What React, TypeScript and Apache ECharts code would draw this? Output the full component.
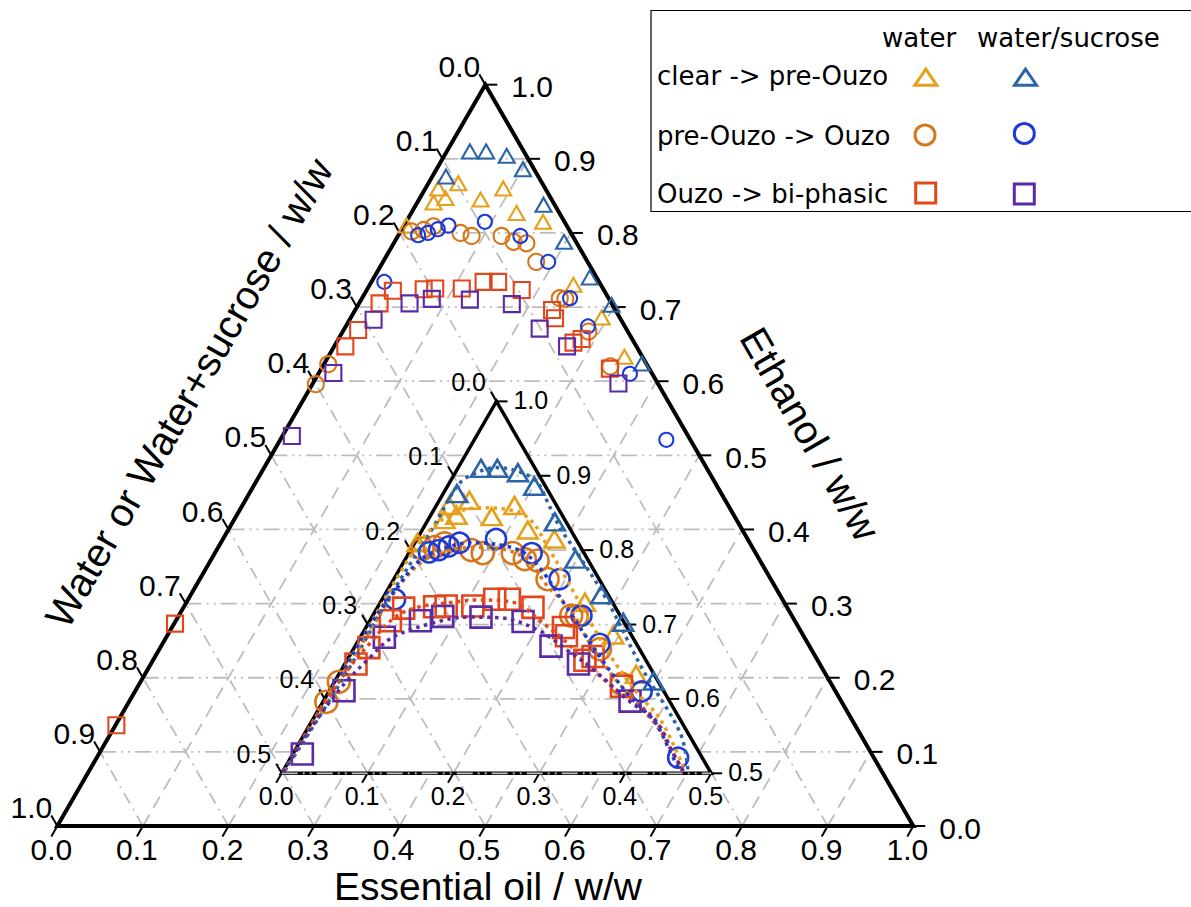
import React, { useEffect, useRef } from "react";
import * as echarts from "echarts";

const SQ3 = Math.sqrt(3);

// All points are [essential oil, ethanol] mass fractions; water = 1 - oil - ethanol
const clearWater = [
  [0.035, 0.867], [0.015, 0.860], [0.030, 0.847], [0.019, 0.841], [0.072, 0.845], [0.091, 0.860],
  [0.123, 0.827], [0.160, 0.815], [0.003, 0.810], [0.238, 0.730], [0.293, 0.686], [0.346, 0.633],
];
const clearSucrose = [
  [0.027, 0.910], [0.046, 0.910], [0.073, 0.904], [0.101, 0.886], [0.016, 0.876], [0.149, 0.838],
  [0.198, 0.788], [0.252, 0.740], [0.296, 0.703], [0.371, 0.624],
];
const ouzoWater = [
  [0.013, 0.802], [0.026, 0.804], [0.035, 0.809], [0.071, 0.800], [0.086, 0.796], [0.121, 0.796],
  [0.139, 0.788], [0.155, 0.786], [0.179, 0.761], [0.231, 0.712], [0.238, 0.711], [0.287, 0.667],
  [0.336, 0.620], [0.005, 0.623], [0.004, 0.596],
];
const ouzoSucrose = [
  [0.023, 0.797], [0.033, 0.800], [0.042, 0.805], [0.052, 0.810], [0.092, 0.815], [0.143, 0.796],
  [0.193, 0.761], [0.243, 0.712], [0.283, 0.674], [0.364, 0.610], [0.451, 0.521], [0.015, 0.734],
];
const biphWater = [
  [0.031, 0.722], [0.066, 0.724], [0.079, 0.725], [0.110, 0.725], [0.131, 0.734], [0.148, 0.734],
  [0.181, 0.723], [0.024, 0.705], [0.017, 0.669], [0.013, 0.647], [0.230, 0.696], [0.239, 0.685],
  [0.277, 0.652], [0.284, 0.657], [0.337, 0.617], [0.001, 0.273], [0.001, 0.136],
];
const biphSucrose = [
  [0.059, 0.705], [0.082, 0.711], [0.127, 0.710], [0.179, 0.704], [0.028, 0.683], [0.017, 0.611],
  [0.228, 0.671], [0.272, 0.647], [0.357, 0.597], [0.011, 0.526],
];

// Fitted phase boundaries shown in the inset, [oil, ethanol]
const fitClearSucrose = [
  [0.002, 0.504], [0.008, 0.639], [0.007, 0.733], [0.011, 0.831], [0.011, 0.885], [0.019, 0.900],
  [0.045, 0.911], [0.075, 0.905], [0.101, 0.892], [0.125, 0.867], [0.158, 0.831], [0.196, 0.796],
  [0.262, 0.733], [0.351, 0.639], [0.437, 0.554], [0.471, 0.504],
];
const fitClearWater = [
  [0.001, 0.503], [0.002, 0.592], [0.003, 0.683], [0.003, 0.769], [0.007, 0.820], [0.022, 0.847],
  [0.053, 0.857], [0.089, 0.854], [0.119, 0.841], [0.159, 0.803], [0.199, 0.763], [0.264, 0.697],
  [0.310, 0.652], [0.360, 0.608], [0.405, 0.572], [0.463, 0.509],
];
const fitOuzoWater = [
  [0.001, 0.502], [0.004, 0.605], [0.007, 0.693], [0.011, 0.753], [0.023, 0.787], [0.046, 0.800],
  [0.079, 0.804], [0.116, 0.799], [0.147, 0.784], [0.182, 0.753], [0.226, 0.720], [0.271, 0.675],
  [0.321, 0.630], [0.360, 0.599], [0.411, 0.558], [0.465, 0.503],
];
const fitOuzoSucrose = [
  [0.001, 0.502], [0.003, 0.609], [0.003, 0.695], [0.009, 0.746], [0.018, 0.787], [0.039, 0.803],
  [0.064, 0.810], [0.101, 0.807], [0.135, 0.796], [0.173, 0.767], [0.217, 0.726], [0.260, 0.686],
  [0.304, 0.646], [0.354, 0.603], [0.400, 0.569], [0.436, 0.531], [0.462, 0.503],
];
const fitBiphWater = [
  [0.001, 0.502], [0.001, 0.525], [0.003, 0.599], [0.008, 0.643], [0.014, 0.670], [0.027, 0.710],
  [0.049, 0.724], [0.078, 0.729], [0.111, 0.733], [0.154, 0.730], [0.203, 0.702], [0.245, 0.675],
  [0.293, 0.639], [0.340, 0.608], [0.394, 0.576], [0.434, 0.535], [0.466, 0.503],
];
const fitBiphSucrose = [
  [0.001, 0.502], [0.001, 0.525], [0.010, 0.608], [0.025, 0.656], [0.038, 0.683], [0.075, 0.702],
  [0.111, 0.710], [0.150, 0.709], [0.201, 0.693], [0.249, 0.666], [0.300, 0.635], [0.353, 0.599],
  [0.403, 0.568], [0.442, 0.527], [0.466, 0.503],
];

const mainTicks = [0, 0.1, 0.2, 0.3, 0.4, 0.5, 0.6, 0.7, 0.8, 0.9, 1.0];
const insetTicks = [0, 0.1, 0.2, 0.3, 0.4, 0.5];

const C_YELLOW = "#e6a01a";
const C_STEEL = "#2b65a7";
const C_ORANGE = "#d8761c";
const C_BLUE = "#1b3ad8";
const C_RED = "#e2461b";
const C_PURPLE = "#5b2ba6";

const FONT = "Liberation Sans";
const LFONT = "DejaVu Sans";

const toXY = (p: number[]) => [p[0] + p[1] / 2, (p[1] * SQ3) / 2];

const DASHES = [
  [16, 5, 2, 5, 2, 5],
  [13, 8],
  [12, 6, 2, 6],
];

function gridSegments(vals: number[], eMin: number) {
  const span = 1 - eMin;
  const out: number[][] = [];
  vals.forEach((c) => {
    if (c <= 0 || c >= span - 1e-9) return;
    const e = eMin + c;
    out.push([...toXY([0, e]), ...toXY([1 - e, e]), 0]);
    out.push([...toXY([c, eMin]), ...toXY([c, 1 - c]), 1]);
    out.push([...toXY([span - c, eMin]), ...toXY([0, 1 - c]), 2]);
  });
  return out;
}

function tickRows(vals: number[], eMin: number) {
  const rows: number[][] = [];
  vals.forEach((v) => {
    rows.push([...toXY([v, eMin]), 0, v]);
    const e = eMin + v;
    rows.push([...toXY([1 - e, e]), 1, e]);
    rows.push([...toXY([0, 1 - v]), 2, v]);
  });
  return rows;
}

function gridRender(params: any, api: any) {
  const a = api.coord([api.value(0), api.value(1)]);
  const b = api.coord([api.value(2), api.value(3)]);
  const fam = api.value(4);
  return {
    type: "line",
    shape: { x1: a[0], y1: a[1], x2: b[0], y2: b[1] },
    style: { stroke: "#bdbdbd", lineWidth: 1.8, lineDash: DASHES[fam], fill: null },
  };
}

function tickRender(len: number, fontSize: number, inset: boolean) {
  return (params: any, api: any) => {
    const p = api.coord([api.value(0), api.value(1)]);
    const kind = api.value(2);
    const v = api.value(3);
    let dx = 0, dy = 0, tx = 0, ty = 0, align = "center";
    if (kind === 0) {
      dx = -len / 2; dy = (len * SQ3) / 2;
      tx = p[0] + dx; ty = p[1] + dy + 13; align = "center";
    } else if (kind === 1) {
      dx = len; dy = 0;
      tx = p[0] + (inset ? 17 : 26); ty = p[1] + (inset ? -1 : 2); align = "left";
    } else {
      dx = -len / 2; dy = (-len * SQ3) / 2;
      tx = p[0] + dx + (inset ? -5 : 1); ty = p[1] + dy + (inset ? -10 : -8); align = "right";
    }
    return {
      type: "group",
      children: [
        { type: "line", shape: { x1: p[0], y1: p[1], x2: p[0] + dx, y2: p[1] + dy }, style: { stroke: "#000", lineWidth: 2 } },
        {
          type: "text", x: tx, y: ty,
          style: { text: v.toFixed(1), fontSize, fontFamily: FONT, fill: "#000", align, verticalAlign: "middle" },
        },
      ],
    };
  };
}

function polyRender(verts: number[][], fill: string | null, stroke: string | null, lw: number) {
  return (params: any, api: any) => {
    const pts = verts.map((v) => api.coord(toXY(v)));
    return {
      type: "polygon",
      shape: { points: pts },
      style: { fill: fill || "none", stroke: stroke || "none", lineWidth: lw, lineJoin: "miter" },
    };
  };
}

function scatter(name: string, data: number[][], symbol: string, size: any, color: string, idx: number, bw: number, z: number, inset: boolean) {
  const d = inset ? data.filter((p) => p[1] >= 0.5) : data;
  return {
    name, type: "scatter", xAxisIndex: idx, yAxisIndex: idx, z, silent: true,
    data: d.map(toXY), symbol, symbolSize: size, clip: false,
    itemStyle: { color: "rgba(0,0,0,0)", borderColor: color, borderWidth: bw, opacity: 1 },
    emphasis: { disabled: true },
  };
}

function fitLine(data: number[][], color: string) {
  return {
    type: "line", xAxisIndex: 1, yAxisIndex: 1, z: 9, silent: true,
    data: data.map(toXY), symbol: "none", smooth: 0.35, clip: false,
    lineStyle: { color, width: 3.5, type: [3.5, 4.5], cap: "butt" },
    emphasis: { disabled: true },
  };
}

function buildOption() {
  const mainV = [[0, 0], [1, 0], [0, 1]];
  const insetV = [[0, 0.5], [0.5, 0.5], [0, 1]];
  const series: any[] = [
    { type: "custom", xAxisIndex: 0, yAxisIndex: 0, z: 1, silent: true, clip: false, data: gridSegments(mainTicks, 0), renderItem: gridRender, encode: { x: [0, 2], y: [1, 3] } },
    { type: "custom", xAxisIndex: 0, yAxisIndex: 0, z: 2, silent: true, clip: false, data: [[0, 0]], renderItem: polyRender(mainV, null, "#000", 4) },
    { type: "custom", xAxisIndex: 0, yAxisIndex: 0, z: 2, silent: true, clip: false, data: tickRows(mainTicks, 0), renderItem: tickRender(12, 30, false) },
    scatter("clearWater", clearWater, "triangle", [16, 14], C_YELLOW, 0, 2.1, 3, false),
    scatter("clearSucrose", clearSucrose, "triangle", [16, 14], C_STEEL, 0, 2.1, 3, false),
    scatter("ouzoWater", ouzoWater, "circle", 16, C_ORANGE, 0, 2.1, 3, false),
    scatter("ouzoSucrose", ouzoSucrose, "circle", 14, C_BLUE, 0, 2.1, 3, false),
    scatter("biphWater", biphWater, "rect", 16, C_RED, 0, 2.1, 3, false),
    scatter("biphSucrose", biphSucrose, "rect", 16, C_PURPLE, 0, 2.1, 3, false),
    { type: "custom", xAxisIndex: 1, yAxisIndex: 1, z: 4, silent: true, clip: false, data: [[0.5, 0.7]], renderItem: polyRender(insetV, "#fff", null, 0) },
    { type: "custom", xAxisIndex: 1, yAxisIndex: 1, z: 5, silent: true, clip: false, data: gridSegments(insetTicks, 0.5), renderItem: gridRender, encode: { x: [0, 2], y: [1, 3] } },
    { type: "custom", xAxisIndex: 1, yAxisIndex: 1, z: 6, silent: true, clip: false, data: [[0.5, 0.7]], renderItem: polyRender(insetV, null, "#000", 3.5) },
    { type: "custom", xAxisIndex: 1, yAxisIndex: 1, z: 6, silent: true, clip: false, data: tickRows(insetTicks, 0.5), renderItem: tickRender(11, 25, true) },
    { type: "custom", xAxisIndex: 1, yAxisIndex: 1, z: 7, silent: true, clip: false, data: [[...toXY([0, 0.5]), ...toXY([0.5, 0.5]), 0]], renderItem: gridRender },
    scatter("clearWaterI", clearWater, "triangle", [20, 17], C_YELLOW, 1, 2.6, 8, true),
    scatter("clearSucroseI", clearSucrose, "triangle", [20, 17], C_STEEL, 1, 2.6, 8, true),
    scatter("ouzoWaterI", ouzoWater, "circle", 22, C_ORANGE, 1, 2.6, 8, true),
    scatter("ouzoSucroseI", ouzoSucrose, "circle", 20, C_BLUE, 1, 2.6, 8, true),
    scatter("biphWaterI", biphWater, "rect", 21, C_RED, 1, 2.6, 8, true),
    scatter("biphSucroseI", biphSucrose, "rect", 21, C_PURPLE, 1, 2.6, 8, true),
    fitLine(fitClearSucrose, C_STEEL),
    fitLine(fitClearWater, C_YELLOW),
    fitLine(fitOuzoWater, C_ORANGE),
    fitLine(fitOuzoSucrose, C_BLUE),
    fitLine(fitBiphWater, C_RED),
    fitLine(fitBiphSucrose, C_PURPLE),
  ];

  const lt = (text: string, x: number, y: number) => ({
    type: "text", x, y, z: 101,
    style: { text, fontSize: 26, fontFamily: LFONT, fill: "#000", align: "left", verticalAlign: "middle" },
  });
  const tri = (cx: number, cy: number, color: string) => ({
    type: "polygon", z: 101,
    shape: { points: [[cx - 11, cy + 8], [cx + 11, cy + 8], [cx, cy - 8]] },
    style: { fill: "none", stroke: color, lineWidth: 3 },
  });
  const circ = (cx: number, cy: number, color: string) => ({
    type: "circle", z: 101, shape: { cx, cy, r: 10 }, style: { fill: "none", stroke: color, lineWidth: 3 },
  });
  const sq = (cx: number, cy: number, color: string) => ({
    type: "rect", z: 101, shape: { x: cx - 10, y: cy - 10, width: 20, height: 20 }, style: { fill: "none", stroke: color, lineWidth: 3 },
  });
  const title = (text: string, x: number, y: number, rot: number, size: number) => ({
    type: "text", x, y, rotation: rot, z: 100,
    style: { text, fontSize: size, fontFamily: FONT, fill: "#000", align: "center", verticalAlign: "middle" },
  });

  return {
    animation: false,
    backgroundColor: "#fff",
    grid: [
      { left: 57.3, top: 55.6, width: 856, height: 770.4, outerBoundsMode: "none", show: false },
      { left: 281.7, top: 372.2, width: 429.5, height: 401.1, outerBoundsMode: "none", show: false },
    ],
    xAxis: [
      { type: "value", gridIndex: 0, min: 0, max: 1, show: false },
      { type: "value", gridIndex: 1, min: 0.25, max: 0.75, show: false },
    ],
    yAxis: [
      { type: "value", gridIndex: 0, min: 0, max: 0.9, show: false },
      { type: "value", gridIndex: 1, min: SQ3 / 4, max: 0.9, show: false },
    ],
    tooltip: { show: false },
    series,
    graphic: [
      title("Essential oil / w/w", 488, 886, 0, 39),
      title("Water or Water+sucrose / w/w", 189, 393, Math.PI / 3, 40),
      title("Ethanol / w/w", 810, 434, -Math.PI / 3, 40),
      {
        type: "rect", z: 100,
        shape: { x: 651, y: 10.5, width: 600, height: 201 },
        style: { fill: "#fff", stroke: "#000", lineWidth: 1.2 },
      },
      lt("water", 882, 38),
      lt("water/sucrose", 977, 38),
      lt("clear -> pre-Ouzo", 657, 76),
      lt("pre-Ouzo -> Ouzo", 657, 136),
      lt("Ouzo -> bi-phasic", 657, 194),
      tri(925.8, 77.2, C_YELLOW),
      tri(1025.5, 77.2, C_STEEL),
      circ(925, 135, C_ORANGE),
      circ(1024.3, 133.5, C_BLUE),
      sq(925.7, 193, C_RED),
      sq(1024.3, 194, C_PURPLE),
    ],
  };
}

export default function App() {
  const ref = useRef<HTMLDivElement>(null);
  useEffect(() => {
    document.body.style.margin = "0";
    if (!ref.current) return;
    const chart = echarts.init(ref.current, null, { renderer: "svg" });
    chart.setOption(buildOption() as any);
    return () => chart.dispose();
  }, []);
  return (
    <div style={{ position: "fixed", left: 0, top: 0, width: 1191, height: 907, background: "#fff" }}>
      <div ref={ref} style={{ width: 1191, height: 907 }} />
    </div>
  );
}
